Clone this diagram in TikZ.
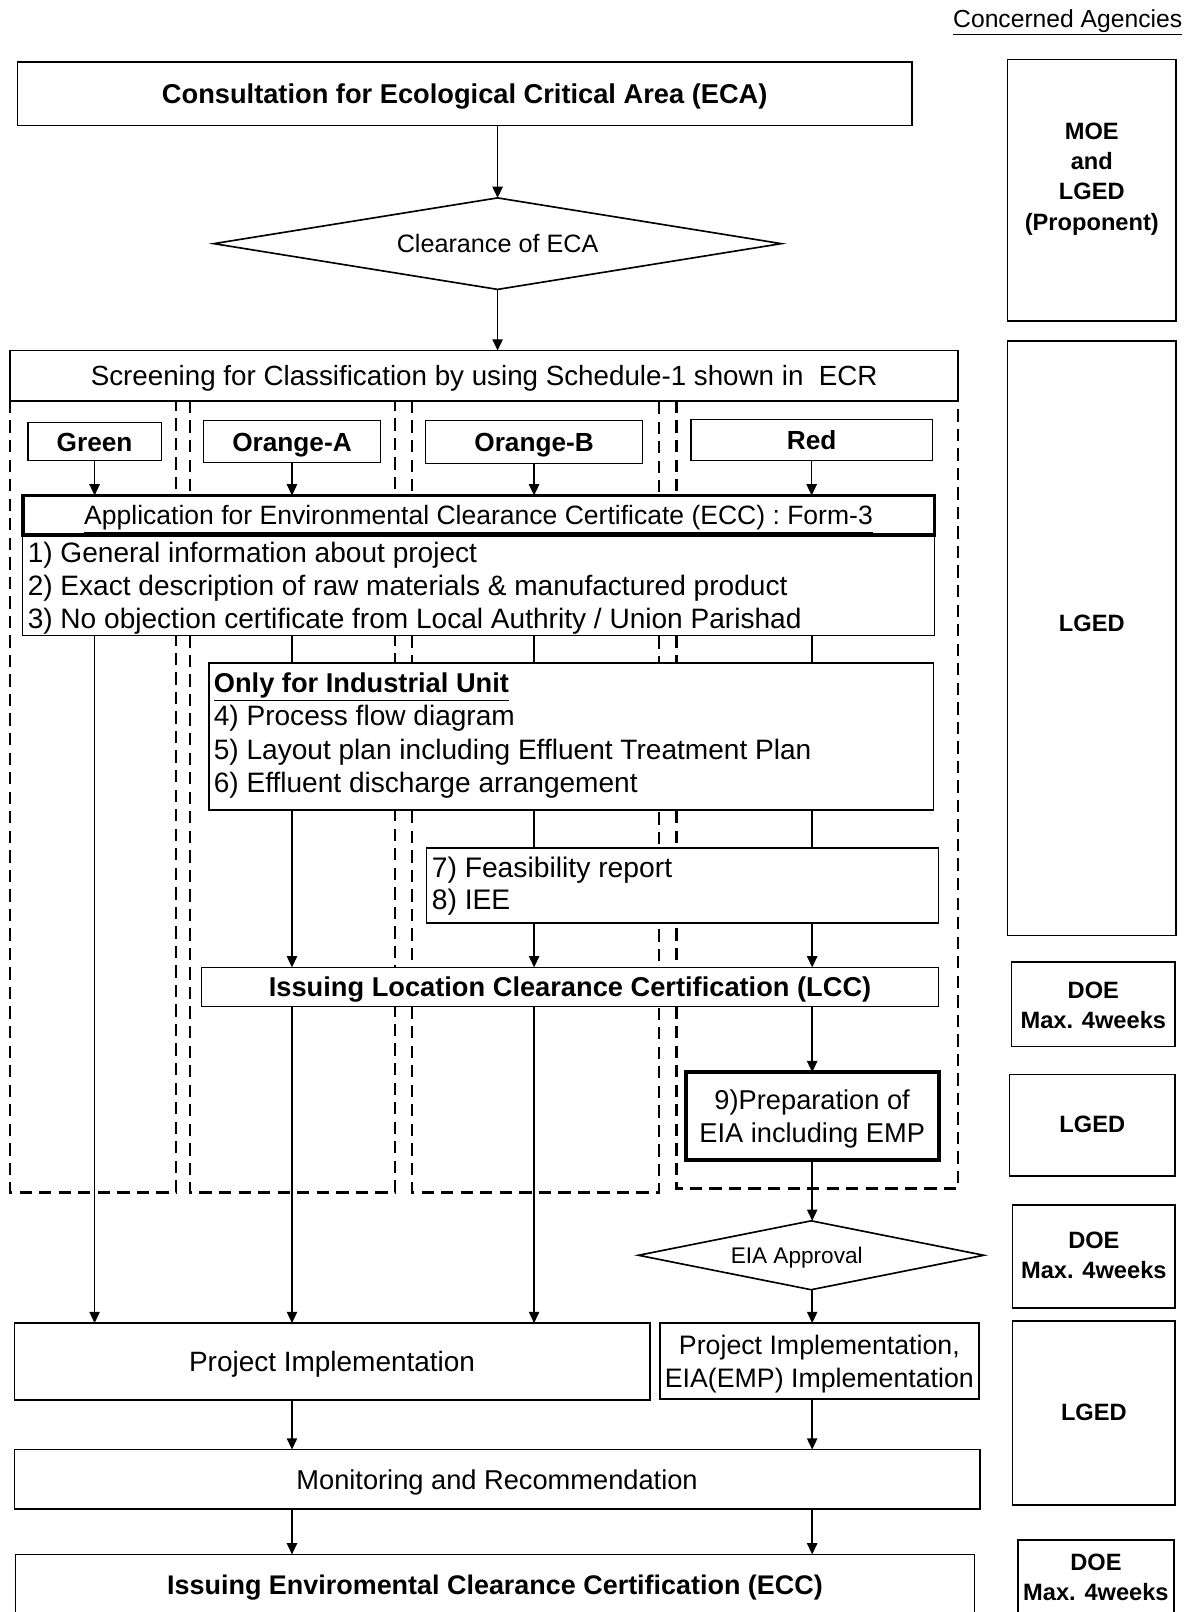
\documentclass[tikz,border=0pt]{standalone}
\usepackage{fontspec}
\setmainfont{Liberation Sans}
\usetikzlibrary{arrows.meta,shapes.geometric}
\begin{document}
\begin{tikzpicture}[x=1pt,y=-1pt,
  box/.style={draw, line width=1.6pt, fill=white, inner sep=0pt, outer sep=0pt, align=center},
  one/.style={text height=19pt, text depth=0pt},
  thickbox/.style={box, line width=3.8pt},
  side/.style={line width=1.6pt},
  lane/.style={line width=2.2pt, dash pattern=on 12pt off 7pt},
  conn/.style={line width=1.5pt},
  arr/.style={conn, -{Triangle[length=11pt,width=10pt]}},
  txt/.style={inner sep=0pt, outer sep=0pt},
  F/.style={font=\fontsize{26.5}{32}\selectfont},
  FL/.style={font=\fontsize{27.3}{32.2}\selectfont},
  FB/.style={font=\fontsize{26.5}{32}\selectfont\bfseries},
  FC/.style={font=\fontsize{25.5}{30}\selectfont\bfseries},
  R/.style={txt, align=center, font=\fontsize{23}{29.5}\selectfont\bfseries},
  dia/.style={draw, shape=diamond, line width=1.6pt, fill=white, inner sep=0pt, outer sep=0pt},
]
\useasboundingbox (0,0) rectangle (1154,1568);

% lanes
\draw[lane] (10,390) -- (10,1160) -- (171,1160) -- (171,390);
\draw[lane] (185,390) -- (185,1160) -- (384,1160) -- (384,390);
\draw[lane] (401,390) -- (401,1160) -- (641,1160) -- (641,390);
\draw[lane] (658,390) -- (658,1156) -- (932,1156) -- (932,390);

% header
\node[txt, anchor=east, font=\fontsize{24}{28}\selectfont] (agencies) at (1150,22) {\underline{Concerned Agencies}};

% main flow
\node[box, one, FB, minimum width=870, minimum height=62] (eca) at (452,91) {Consultation for Ecological Critical Area (ECA)};
\node[dia, aspect=6.2, minimum width=552, minimum height=89, font=\fontsize{24.5}{28}\selectfont] (clr) at (484,237) {Clearance of ECA};
\node[box, one, font=\fontsize{27}{32}\selectfont, minimum width=922, minimum height=49] (scr) at (471,365.5) {Screening for Classification by using Schedule-1 shown in\ \ ECR};

\node[box, one, FC, minimum width=130, minimum height=37] (green) at (92,429.5) {Green};
\node[box, one, FC, minimum width=172, minimum height=41] (oa) at (284,429.5) {Orange-A};
\node[box, one, FC, minimum width=211, minimum height=42] (ob) at (519.5,430) {Orange-B};
\node[box, one, FC, minimum width=235, minimum height=40] (red) at (789.5,428) {Red};

\node[box, minimum width=887, minimum height=98] (appl) at (465.5,569) {};
\node[txt, FL, anchor=west, align=left] (applt) at (27,572.5) {1) General information about project\\2) Exact description of raw materials \& manufactured product\\3) No objection certificate from Local Authrity / Union Parishad};
\node[thickbox, one, font=\fontsize{25.8}{30}\selectfont, minimum width=887, minimum height=38] (apph) at (465.5,501) {\underline{Application for Environmental Clearance Certificate (ECC) : Form-3}};

\node[box, minimum width=705, minimum height=143] (ind) at (555.5,716.5) {};
\node[txt, FL, anchor=west, align=left] (indt) at (208,715.5) {\underline{\fontsize{26.5}{32.2}\selectfont\textbf{Only for Industrial Unit}}\\4) Process flow diagram\\5) Layout plan including Effluent Treatment Plan\\6) Effluent discharge arrangement};

\node[box, minimum width=498, minimum height=73] (feas) at (664,861.5) {};
\node[txt, anchor=west, align=left, font=\fontsize{27.5}{31}\selectfont] (feast) at (420,862) {7) Feasibility report\\8) IEE};

\node[box, one, FB, minimum width=717, minimum height=38] (lcc) at (554.5,960) {Issuing Location Clearance Certification (LCC)};
\node[thickbox, minimum width=246, minimum height=85] (eia) at (790,1085.5) {};
\node[txt, F, align=center] (eiat) at (790,1088.5) {9)Preparation of\\EIA including EMP};
\node[dia, minimum width=336, minimum height=67] (appr) at (789,1221) {};
\node[txt, text height=16pt, text depth=0pt, font=\fontsize{22}{26}\selectfont] (apprt) at (775,1221) {EIA Approval};

\node[box, one, font=\fontsize{27.2}{32}\selectfont, minimum width=618, minimum height=75] (pi) at (323,1324.5) {Project Implementation};
\node[box, minimum width=310, minimum height=74] (pi2) at (797,1324) {};
\node[txt, align=center, font=\fontsize{26}{32}\selectfont] (pi2t) at (797,1327) {Project Implementation,\\EIA(EMP) Implementation};
\node[box, one, F, minimum width=939, minimum height=58] (mon) at (483.5,1439) {Monitoring and Recommendation};
\node[txt, one, font=\fontsize{26.2}{32}\selectfont\bfseries, minimum width=933, minimum height=58, align=center] (ecc) at (481.5,1541) {Issuing Enviromental Clearance Certification (ECC)};
\draw[side] (15,1569) -- (15,1512) -- (948,1512) -- (948,1569);

% connectors
\draw[arr] (eca.south -| clr.north) -- (clr.north);
\draw[arr] (clr.south) -- (scr.north -| clr.south);
\draw[arr] (green.south) -- (green.south |- apph.north);
\draw[arr] (oa.south) -- (oa.south |- apph.north);
\draw[arr] (ob.south) -- (ob.south |- apph.north);
\draw[arr] (red.south) -- (red.south |- apph.north);

\draw[arr] (appl.south -| green.south) -- (pi.north -| green.south);

\draw[conn] (appl.south -| oa.south) -- (ind.north -| oa.south);
\draw[arr] (ind.south -| oa.south) -- (lcc.north -| oa.south);
\draw[arr] (lcc.south -| oa.south) -- (pi.north -| oa.south);

\draw[conn] (appl.south -| ob.south) -- (ind.north -| ob.south);
\draw[conn] (ind.south -| ob.south) -- (feas.north -| ob.south);
\draw[arr] (feas.south -| ob.south) -- (lcc.north -| ob.south);
\draw[arr] (lcc.south -| ob.south) -- (pi.north -| ob.south);

\draw[conn] (appl.south -| eia.north) -- (ind.north -| eia.north);
\draw[conn] (ind.south -| eia.north) -- (feas.north -| eia.north);
\draw[arr] (feas.south -| eia.north) -- (lcc.north -| eia.north);
\draw[arr] (lcc.south -| eia.north) -- (eia.north);
\draw[arr] (eia.south) -- (appr.north -| eia.south);
\draw[arr] (appr.south -| eia.south) -- (pi2.north -| eia.south);

\draw[arr] (pi.south -| oa.south) -- (mon.north -| oa.south);
\draw[arr] (pi2.south -| eia.south) -- (mon.north -| eia.south);
\draw[arr] (mon.south -| oa.south) -- (ecc.north -| oa.south);
\draw[arr] (mon.south -| eia.south) -- (ecc.north -| eia.south);

% agencies column
\node[box, minimum width=164, minimum height=254] (r1) at (1062,185) {};
\node[R] (r1t) at (1062,174) {MOE\\and\\LGED\\(Proponent)};
\node[box, minimum width=164, minimum height=578] (r2) at (1062,621) {};
\node[R] (r2t) at (1062,606) {LGED};
\node[box, minimum width=159, minimum height=82] (r3) at (1063.5,977) {};
\node[R] (r3t) at (1063.5,978) {DOE\\Max. 4weeks};
\node[box, minimum width=161, minimum height=99] (r4) at (1062.5,1094.5) {};
\node[R] (r4t) at (1062.5,1094) {LGED};
\node[box, minimum width=158, minimum height=100] (r5) at (1064,1222) {};
\node[R] (r5t) at (1064,1221) {DOE\\Max. 4weeks};
\node[box, minimum width=158, minimum height=179] (r6) at (1064,1374.5) {};
\node[R] (r6t) at (1064,1374) {LGED};
\node[R] (r7t) at (1066,1534) {DOE\\Max. 4weeks};
\draw[side] (990,1569) -- (990,1498) -- (1142,1498) -- (1142,1569);
\end{tikzpicture}
\end{document}
